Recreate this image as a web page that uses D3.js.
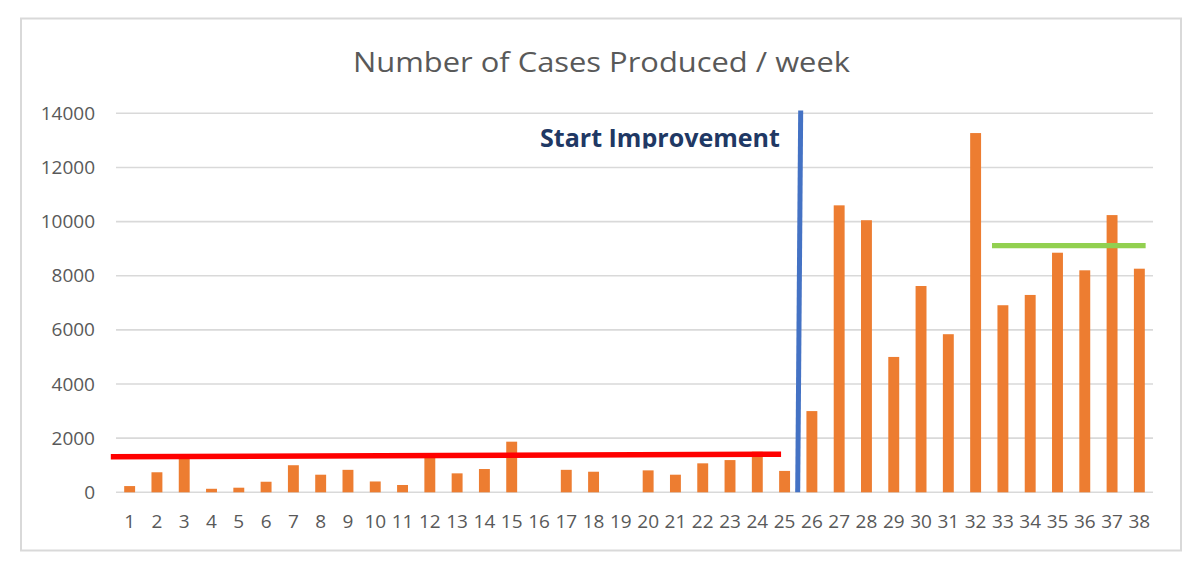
<!DOCTYPE html>
<html>
<head>
<meta charset="utf-8">
<script src="https://cdn.jsdelivr.net/npm/d3@7"></script>
<style>
  html, body { margin: 0; padding: 0; background: #ffffff; }
  svg { display: block; }
</style>
</head>
<body>
<svg id="chart" width="1200" height="572"></svg>
<script>
// ---- Data ----
const weeks = d3.range(1, 39).map(String);
const cases = [230, 740, 1250, 130, 170, 390, 1000, 650, 830, 400, 270, 1300, 700, 860, 1870, 0,
  830, 760, 0, 810, 650, 1070, 1190, 1500, 790, 3000, 10600, 10050, 5000, 7620, 5840, 13270,
  6910, 7290, 8850, 8200, 10240, 8260];
const yTicks = [0, 2000, 4000, 6000, 8000, 10000, 12000, 14000];
const baselineLine = [{ week: 0.31, value: 1315 }, { week: 24.87, value: 1404 }];
const improvementLine = [{ week: 25.59, value: 14100 }, { week: 25.48, value: 0 }];
const targetLine = [{ week: 32.6, value: 9110 }, { week: 38.23, value: 9110 }];
const titleText = "Number of Cases Produced / week";
const annotationText = "Start Improvement";

// ---- Layout ----
const svg = d3.select("#chart");
const plot = { left: 116, right: 1153, top: 113.3, bottom: 492.3 };

svg.append("rect")
  .attr("x", 21).attr("y", 18.5).attr("width", 1160).attr("height", 532)
  .attr("fill", "#ffffff").attr("stroke", "#d9d9d9").attr("stroke-width", 2);

const x = d3.scaleBand().domain(weeks).range([plot.left, plot.right])
  .paddingInner(0.6).paddingOuter(0.3);
const xw = d3.scaleLinear().domain([0.5, weeks.length + 0.5]).range([plot.left, plot.right]);
const y = d3.scaleLinear().domain([0, 14000]).range([plot.bottom, plot.top]);

// Gridlines
svg.append("g").selectAll("line").data(yTicks).join("line")
  .attr("x1", plot.left).attr("x2", plot.right)
  .attr("y1", d => y(d)).attr("y2", d => y(d))
  .attr("stroke", "#d9d9d9").attr("stroke-width", 1.6);

// Y axis labels
const yAxis = d3.axisLeft(y).tickValues(yTicks).tickSize(0).tickPadding(0).tickFormat(d3.format("d"));
const gy = svg.append("g").attr("transform", `translate(${95},0)`).call(yAxis);
gy.select(".domain").remove();
gy.selectAll("text").attr("font-family", "'Open Sans', sans-serif").attr("font-size", 19)
  .attr("fill", "#595959");

// X axis labels
const xAxis = d3.axisBottom(x).tickSize(0).tickPadding(0);
const gx = svg.append("g").attr("transform", `translate(0,${514})`).call(xAxis);
gx.select(".domain").remove();
gx.selectAll("text").attr("font-family", "'Open Sans', sans-serif").attr("font-size", 19)
  .attr("fill", "#595959").attr("dy", "0.71em");

// Bars
svg.append("g").selectAll("rect").data(cases).join("rect")
  .attr("x", (d, i) => x(weeks[i]))
  .attr("width", x.bandwidth())
  .attr("y", d => y(d))
  .attr("height", d => y(0) - y(d))
  .attr("fill", "#ED7D31");

// Reference lines
const line = d3.line().x(d => xw(d.week)).y(d => y(d.value));
svg.append("path").datum(baselineLine).attr("d", line)
  .attr("stroke", "#FF0000").attr("stroke-width", 5.5).attr("fill", "none");
svg.append("path").datum(targetLine).attr("d", line)
  .attr("stroke", "#92D050").attr("stroke-width", 5.3).attr("fill", "none");
svg.append("path").datum(improvementLine).attr("d", line)
  .attr("stroke", "#4472C4").attr("stroke-width", 5).attr("fill", "none");

// Annotation (clipped at bottom as in the original text box)
svg.append("clipPath").attr("id", "annClip").append("rect")
  .attr("x", 500).attr("y", 115).attr("width", 300).attr("height", 33.5);
const ann = svg.append("text")
  .attr("clip-path", "url(#annClip)")
  .attr("x", 540).attr("y", 146.5)
  .attr("font-family", "'Open Sans', sans-serif").attr("font-weight", 700)
  .attr("font-size", 25).attr("fill", "#203864")
  .text(annotationText);
const annW = ann.node().getComputedTextLength();
ann.attr("font-size", 25 * 240 / annW);

// Title
svg.append("text")
  .attr("x", 353).attr("y", 72)
  .attr("font-family", "'Open Sans', sans-serif").attr("font-weight", 400)
  .attr("font-size", 27).attr("fill", "#595959")
  .attr("textLength", 497).attr("lengthAdjust", "spacingAndGlyphs")
  .text(titleText);
</script>
</body>
</html>
